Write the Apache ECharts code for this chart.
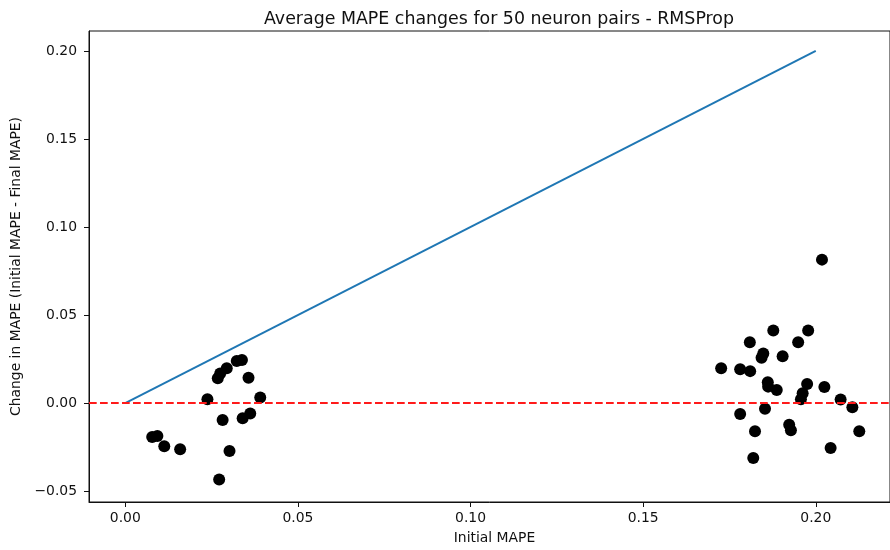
<!DOCTYPE html>
<html>
<head>
<meta charset="utf-8">
<script src="https://cdn.jsdelivr.net/npm/echarts@6/dist/echarts.min.js"></script>
<style>
  html, body { margin: 0; padding: 0; background: #fff; }
  #chart { width: 890px; height: 550px; }
</style>
</head>
<body>
<div id="chart"></div>
<script>
// initial MAPE of each neuron pair
var initialMape = [
  0.0078, 0.0093, 0.0113, 0.0159, 0.0238, 0.0272, 0.0282, 0.0302, 0.0268,
  0.0275, 0.0294, 0.0323, 0.0338, 0.0357, 0.0391, 0.0340, 0.0362,
  0.2018, 0.1877, 0.1978, 0.1809, 0.1949, 0.1848, 0.1843, 0.1904, 0.1726,
  0.1781, 0.1810, 0.1861, 0.1862, 0.1887, 0.1975, 0.2025, 0.1962, 0.1957,
  0.2072, 0.2106, 0.1853, 0.1781, 0.1824, 0.1923, 0.1928, 0.2126, 0.2043,
  0.1819
];
// change in MAPE (initial - final)
var mapeChange = [
  -0.0192, -0.0186, -0.0245, -0.0262, 0.0023, -0.0433, -0.0096, -0.0271, 0.0141,
  0.0169, 0.0198, 0.0239, 0.0245, 0.0145, 0.0032, -0.0085, -0.0058,
  0.0815, 0.0412, 0.0412, 0.0346, 0.0346, 0.0282, 0.0258, 0.0267, 0.0199,
  0.0192, 0.0182, 0.0119, 0.0094, 0.0075, 0.0109, 0.0092, 0.0056, 0.0023,
  0.0021, -0.0023, -0.0032, -0.0062, -0.0160, -0.0123, -0.0154, -0.0160, -0.0254,
  -0.0311
];
// y = x reference line
var refLineX = [0, 0.2];
var refLineY = [0, 0.2];
var xTicks = [0, 0.05, 0.10, 0.15, 0.20];
var yTicks = [-0.05, 0, 0.05, 0.10, 0.15, 0.20];

var points = initialMape.map(function (x, i) { return [x, mapeChange[i]]; });
var refLine = refLineX.map(function (x, i) { return [x, refLineY[i]]; });

var font = "'DejaVu Sans', sans-serif";
function fmt(v) {
  // matplotlib style minus sign
  return v.toFixed(2).replace('-', '\u2212');
}

var chart = echarts.init(document.getElementById('chart'));

// the original axes box is cut off at the right edge of the picture,
// so the title and x label sit a bit right of the canvas centre
var option = {
  animation: false,
  title: {
    text: 'Average MAPE changes for 50 neuron pairs - RMSProp',
    left: 494,
    textAlign: 'center',
    top: 6,
    textStyle: { fontFamily: font, fontSize: 17.4, fontWeight: 'normal', color: '#111' }
  },
  grid: {
    left: 89, right: 0, top: 31, bottom: 46,
    show: true, borderColor: '#111', borderWidth: 1
  },
  xAxis: {
    type: 'value',
    min: -0.0105,
    max: 0.2215,
    name: 'Initial MAPE',
    nameLocation: 'middle',
    nameGap: 29,
    nameTextStyle: { fontFamily: font, fontSize: 13.9, color: '#111', padding: [0, 0, 0, 10] },
    splitLine: { show: false },
    axisLine: { onZero: false, lineStyle: { color: '#111' } },
    axisTick: { customValues: xTicks, length: 5, lineStyle: { color: '#111' } },
    axisLabel: {
      customValues: xTicks, fontFamily: font, fontSize: 13.9, color: '#111', margin: 9,
      formatter: fmt
    }
  },
  yAxis: {
    type: 'value',
    min: -0.0561,
    max: 0.2113,
    name: 'Change in MAPE (Initial MAPE - Final MAPE)',
    nameLocation: 'middle',
    nameGap: 62,
    nameTextStyle: { fontFamily: font, fontSize: 13.9, color: '#111' },
    splitLine: { show: false },
    axisLine: { show: true, onZero: false, lineStyle: { color: '#111' } },
    axisTick: { show: true, customValues: yTicks, length: 5, lineStyle: { color: '#111' } },
    axisLabel: {
      customValues: yTicks, fontFamily: font, fontSize: 13.9, color: '#111', margin: 12,
      formatter: fmt
    }
  },
  series: [
    {
      type: 'line',
      data: refLine,
      showSymbol: false,
      lineStyle: { color: '#1f77b4', width: 2 },
      z: 1
    },
    {
      type: 'scatter',
      data: points,
      symbolSize: 12,
      itemStyle: { color: '#000', opacity: 1 },
      z: 2
    },
    {
      type: 'line',
      data: [],
      z: 3,
      markLine: {
        silent: true,
        symbol: 'none',
        label: { show: false },
        lineStyle: { color: '#ff1a1a', width: 2, type: [7.7, 3.3] },
        data: [{ yAxis: 0 }]
      }
    }
  ]
};

chart.setOption(option);
</script>
</body>
</html>
